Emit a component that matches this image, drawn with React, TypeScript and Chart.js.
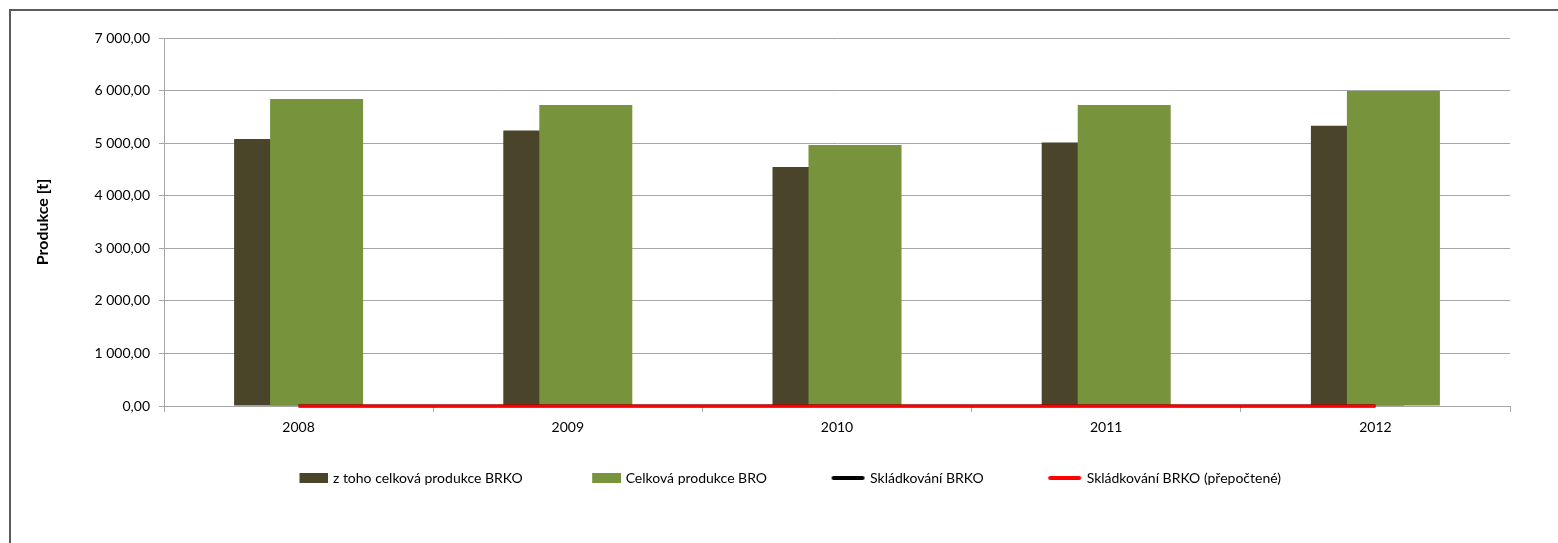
import React, { useEffect, useRef } from 'react';
import { Chart, registerables } from 'chart.js';

Chart.register(...registerables);

// ---- data ----
const years = ['2008', '2009', '2010', '2011', '2012'];
const brkoProduction = [5080, 5240, 4545, 5010, 5330];
const broProduction = [5840, 5725, 4965, 5725, 5990];
const landfillBrko = [0, 0, 0, 0, 0];
const landfillBrkoRecalc = [0, 0, 0, 0, 0];
const seriesLabels = [
  'z toho celková produkce BRKO',
  'Celková produkce BRO',
  'Skládkování BRKO',
  'Skládkování BRKO (přepočtené)',
];
const yAxisTitle = 'Produkce [t]';
const yMin = 0;
const yMax = 7000;
const yStep = 1000;

// ---- styles ----
const DARK = '#4a452a';
const GREEN = '#77933c';
const BLACK = '#000000';
const RED = '#ff0000';
const GRID = '#a6a6a6';
const FONT = 'Lato, "Open Sans", "Noto Sans", sans-serif';

const CANVAS_W = 1547;
const CANVAS_H = 532;
const LEGEND_W = 86;

function formatCz(v: number): string {
  const [i, d] = v.toFixed(2).split('.');
  return i.replace(/\B(?=(\d{3})+(?!\d))/g, ' ') + ',' + d;
}

function makeBoxMark(color: string): HTMLCanvasElement {
  const iw = LEGEND_W + 5;
  const c = document.createElement('canvas');
  c.width = iw;
  c.height = 10;
  const ctx = c.getContext('2d')!;
  ctx.fillStyle = color;
  ctx.fillRect(iw - 29, 0, 29, 10);
  return c;
}

function makeLineMark(color: string): HTMLCanvasElement {
  const iw = LEGEND_W + 5;
  const c = document.createElement('canvas');
  c.width = iw;
  c.height = 4;
  const ctx = c.getContext('2d')!;
  ctx.strokeStyle = color;
  ctx.lineWidth = 4;
  ctx.lineCap = 'round';
  ctx.beginPath();
  ctx.moveTo(iw - 32, 2);
  ctx.lineTo(iw - 3, 2);
  ctx.stroke();
  return c;
}

// Draw datasets in the listed order (bars first, later series on top).
const drawOrderPlugin = {
  id: 'drawOrder',
  beforeDatasetDraw() {
    return false;
  },
  afterDatasetsDraw(chart: any) {
    const n = chart.data.datasets.length;
    for (let i = 0; i < n; i++) {
      const meta = chart.getDatasetMeta(i);
      if (meta.visible) meta.controller.draw();
    }
  },
};

export default function App() {
  const canvasRef = useRef<HTMLCanvasElement | null>(null);

  useEffect(() => {
    if (!canvasRef.current) return;
    const marks = [makeBoxMark(DARK), makeBoxMark(GREEN), makeLineMark(BLACK), makeLineMark(RED)];

    const chart = new Chart(canvasRef.current, {
      type: 'bar',
      data: {
        labels: years,
        datasets: [
          {
            type: 'bar',
            label: seriesLabels[0],
            data: brkoProduction,
            backgroundColor: DARK,
            borderWidth: 0,
            categoryPercentage: 0.2675,
            barPercentage: 2.583,
          },
          {
            type: 'bar',
            label: seriesLabels[1],
            data: broProduction,
            backgroundColor: GREEN,
            borderWidth: 0,
            categoryPercentage: 0.2675,
            barPercentage: 2.583,
          },
          {
            type: 'line',
            label: seriesLabels[2],
            data: landfillBrko,
            borderColor: BLACK,
            backgroundColor: BLACK,
            borderWidth: 3,
            pointRadius: 0,
            fill: false,
          },
          {
            type: 'line',
            label: seriesLabels[3],
            data: landfillBrkoRecalc,
            borderColor: RED,
            backgroundColor: RED,
            borderWidth: 3,
            pointRadius: 0,
            fill: false,
          },
        ] as any,
      },
      options: {
        responsive: false,
        animation: false,
        events: [],
        layout: { padding: { top: 27, left: 0, right: 48, bottom: 48 } },
        scales: {
          x: {
            type: 'category',
            offset: true,
            grid: {
              display: true,
              offset: true,
              drawOnChartArea: false,
              drawTicks: true,
              tickLength: 6,
              color: GRID,
              lineWidth: 1,
            },
            border: { display: true, color: GRID, width: 1 },
            ticks: {
              color: '#000',
              font: { family: FONT, size: 14 },
              padding: 7,
              maxRotation: 0,
            },
            afterFit: (scale: any) => {
              scale.height = 55;
            },
          },
          y: {
            type: 'linear',
            min: yMin,
            max: yMax,
            grid: {
              color: GRID,
              lineWidth: 1,
              drawTicks: true,
              tickLength: 5,
            },
            border: { display: true, color: GRID, width: 1 },
            ticks: {
              stepSize: yStep,
              color: '#000',
              font: { family: FONT, size: 14 },
              padding: 9,
              callback: (v: any) => formatCz(Number(v)),
            },
            title: {
              display: true,
              text: yAxisTitle,
              color: '#000',
              font: { family: FONT, size: 16, weight: 'bold' },
              padding: { top: 22, bottom: 0 },
            },
            afterFit: (scale: any) => {
              scale.width = 153;
            },
          },
        },
        plugins: {
          legend: {
            display: true,
            position: 'bottom',
            labels: {
              usePointStyle: true,
              pointStyleWidth: LEGEND_W,
              color: '#000',
              padding: 10,
              font: { family: FONT, size: 14 },
              generateLabels: (ch: any) => {
                const items = (Chart as any).defaults.plugins.legend.labels.generateLabels(ch);
                return items.map((it: any) => ({ ...it, pointStyle: marks[it.datasetIndex], lineWidth: 0 }));
              },
            },
          },
          tooltip: { enabled: false },
        },
      } as any,
      plugins: [drawOrderPlugin],
    });

    return () => chart.destroy();
  }, []);

  return (
    <div
      style={{
        position: 'absolute',
        left: 9,
        top: 9,
        width: 1549,
        height: 534,
        boxSizing: 'border-box',
        borderLeft: '2px solid #5b5b5b',
        borderTop: '2px solid #5b5b5b',
        background: '#fff',
        overflow: 'hidden',
      }}
    >
      <canvas
        ref={canvasRef}
        width={CANVAS_W}
        height={CANVAS_H}
        style={{ display: 'block', width: CANVAS_W, height: CANVAS_H }}
      />
    </div>
  );
}
